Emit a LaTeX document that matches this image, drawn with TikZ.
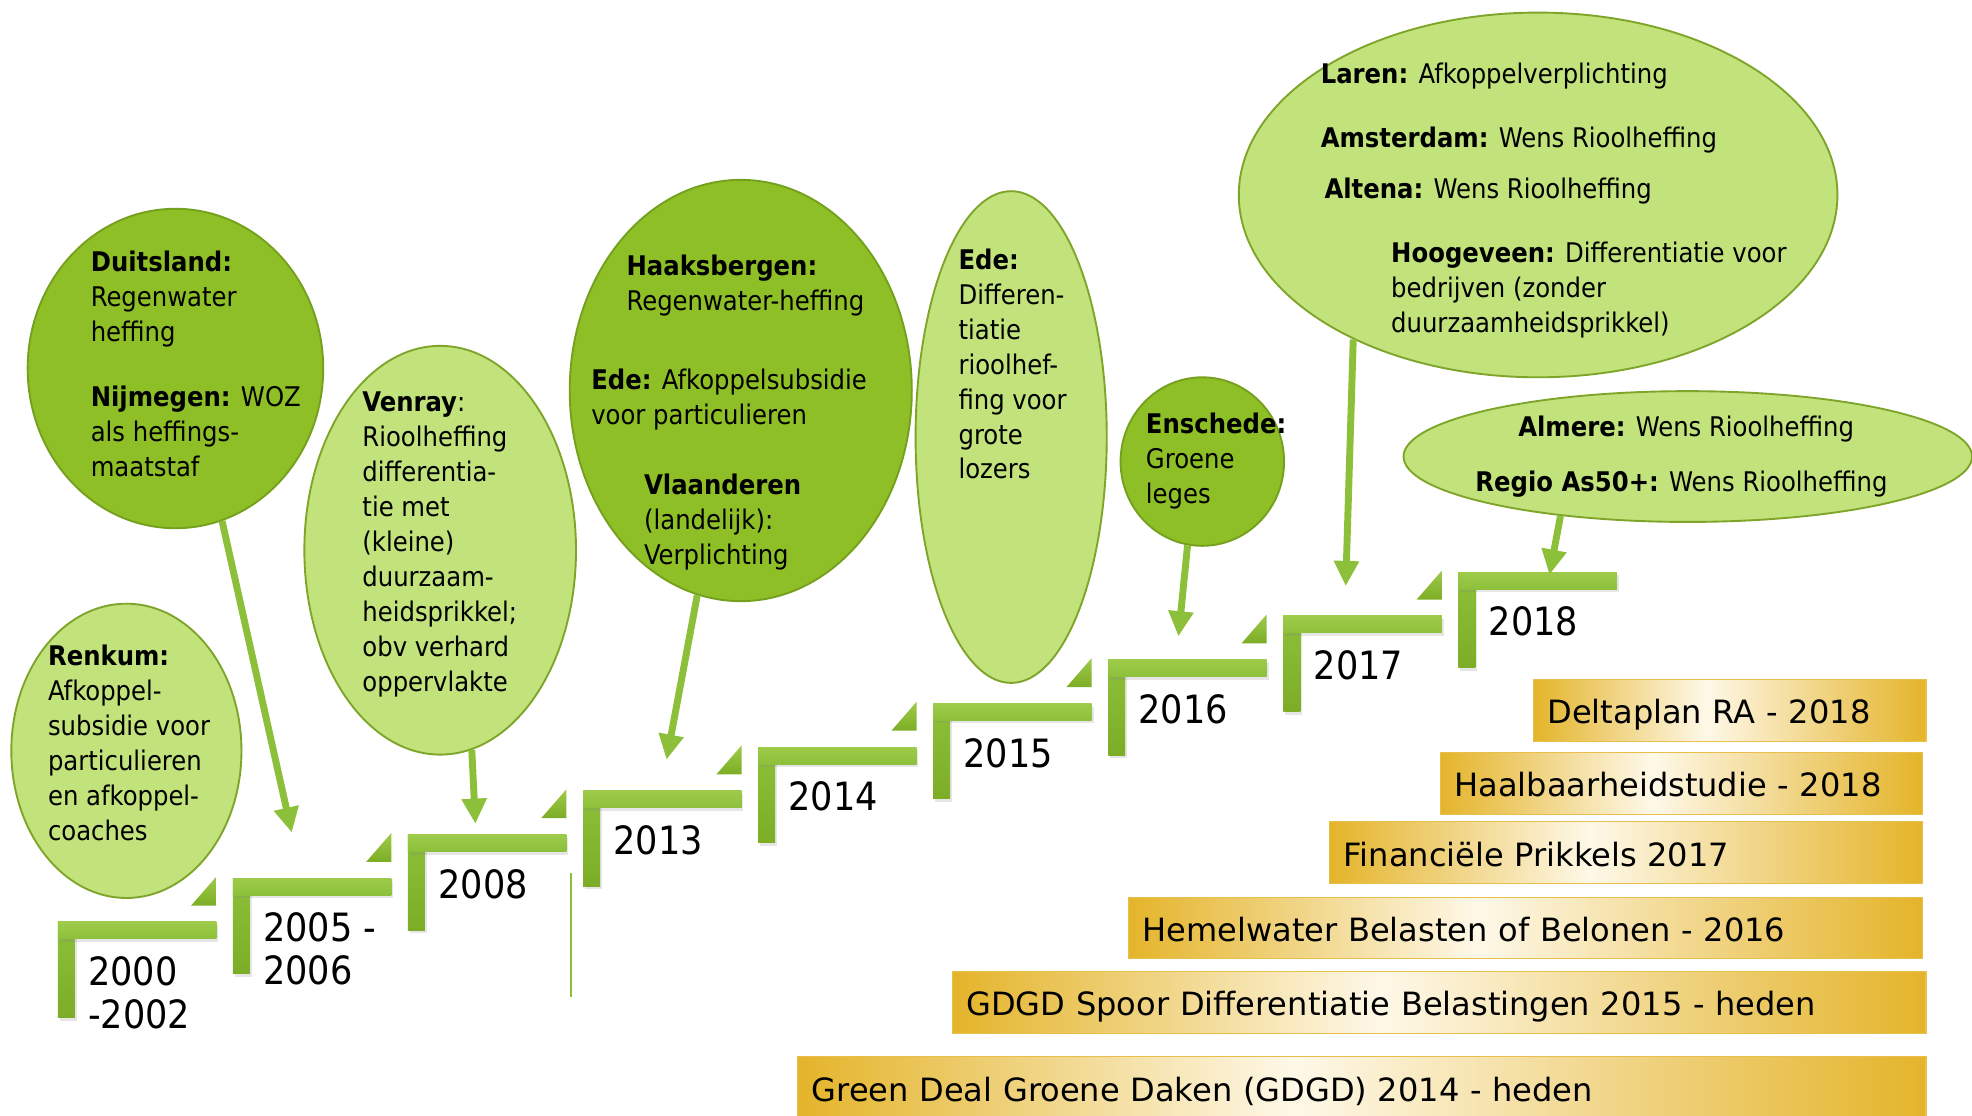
\documentclass[tikz,border=0pt]{standalone}
\usepackage{fontspec}
\setmainfont{DejaVu Sans Condensed}
\newfontfamily\boxfont{DejaVu Sans}
\usetikzlibrary{shapes.geometric,arrows.meta,shadows}

\definecolor{leafdark}{HTML}{8FBF26}
\definecolor{leafdarkedge}{HTML}{74A01E}
\definecolor{leaflight}{HTML}{C2E27B}
\definecolor{leaflightedge}{HTML}{7EA52A}
\definecolor{stepgreen}{HTML}{8DC03A}
\definecolor{steplight}{HTML}{9ECB4A}
\definecolor{stepdark}{HTML}{7DAD26}
\definecolor{gold}{HTML}{E4B42A}
\definecolor{cream}{HTML}{FEF8E8}

\pgfdeclarehorizontalshading{goldbar}{100bp}{color(0bp)=(gold); color(25bp)=(gold); color(47bp)=(cream); color(75bp)=(gold); color(100bp)=(gold)}

\tikzset{
  leaf/.style={ellipse, draw=leafdarkedge, fill=leafdark, line width=1.5pt, inner sep=0pt},
  pale leaf/.style={ellipse, draw=leaflightedge, fill=leaflight, line width=1.5pt, inner sep=0pt},
  leaftext/.style={anchor=north west, inner sep=0pt, align=left, font=\fontsize{21.5}{27.8}\selectfont},
  yearlabel/.style={anchor=north west, inner sep=0pt, align=left, font=\fontsize{31}{34}\selectfont},
  hbar/.style={top color=steplight, bottom color=stepgreen, drop shadow={opacity=.2, shadow xshift=1.5pt, shadow yshift=-2.5pt}},
  vbar/.style={top color=stepgreen, bottom color=stepdark, drop shadow={opacity=.2, shadow xshift=1.5pt, shadow yshift=-2.5pt}},
  riser/.style={top color=steplight, bottom color=stepdark},
  pointer/.style={draw=stepgreen, line width=5.5pt, -{Triangle[width=19pt,length=20pt]}},
  goldbox/.style={anchor=north west, shade, shading=goldbar, draw=gold!85!white, line width=0.8pt,
    inner xsep=11pt, inner ysep=0pt, minimum height=49pt, text height=21.5pt, text depth=0pt,
    align=left, font=\boxfont\fontsize{25.5}{30}\selectfont},
}

\begin{document}
\begin{tikzpicture}[x=1pt, y=-1pt]

  \useasboundingbox (0,0) rectangle (1568,887);

  % Staircase of years
  \foreach \yr [count=\i from 0] in {{2000\\-2002},{2005 -\\2006},2008,2013,2014,2015,2016,2017,2018}{
    \pgfmathsetmacro\stepx{46+139.2*\i}
    \pgfmathsetmacro\stepy{733-34.75*\i}
    \shade[vbar] (\stepx,\stepy) rectangle ++(13.5,76);
    \shade[hbar] (\stepx,\stepy) rectangle ++(126,13.5);
    \ifnum\i<8
      \shade[riser] (\stepx+126,\stepy-36) -- ++(0,23) -- ++(-20,0) -- cycle;
    \fi
    \node[yearlabel] (yr\i) at (\stepx+24,\stepy+27.4) {\yr};
  }
  \draw[stepgreen, line width=1.5pt] (454,694) -- (454,793);

  % Define nodes
  \node[pale leaf, minimum width=183pt, minimum height=234pt] (renkum) at (100.5,597) {};
  \node[leaf, minimum width=235pt, minimum height=254pt] (duits) at (139.5,293) {};
  \node[pale leaf, minimum width=216pt, minimum height=325pt] (venray) at (350,437.5) {};
  \node[leaf, minimum width=272pt, minimum height=335pt] (haaks) at (589,310.5) {};
  \node[pale leaf, minimum width=152pt, minimum height=391pt] (ede) at (804,347.5) {};
  \node[leaf, minimum width=130pt, minimum height=134pt] (ensch) at (956,367) {};
  \node[pale leaf, minimum width=476pt, minimum height=290pt] (laren) at (1223,155) {};
  \node[pale leaf, minimum width=452pt, minimum height=104pt] (almere) at (1342,363) {};

  \node[leaftext] (renkum-txt) at (38,512.5) {\textbf{Renkum:}\\Afkoppel-\\subsidie voor\\particulieren\\en afkoppel-\\coaches};
  \node[leaftext] (duits-txt) at (72,199.5) {\textbf{Duitsland:}\\Regenwater\\heffing\\[24pt]\textbf{Nijmegen:} WOZ\\als heffings-\\maatstaf};
  \node[leaftext] (venray-txt) at (288,311.5) {\textbf{Venray}:\\Rioolheffing\\differentia-\\tie met\\(kleine)\\duurzaam-\\heidsprikkel;\\obv verhard\\oppervlakte};
  \node[leaftext] (haaks-txt) at (498,202.5) {\textbf{Haaksbergen:}\\Regenwater-heffing};
  \node[leaftext] (edesub-txt) at (470,293.5) {\textbf{Ede:} Afkoppelsubsidie\\voor particulieren};
  \node[leaftext] (vlaan-txt) at (512,376.5) {\textbf{Vlaanderen}\\(landelijk):\\Verplichting};
  \node[leaftext] (ede-txt) at (762,197.5) {\textbf{Ede:}\\Differen-\\tiatie\\rioolhef-\\fing voor\\grote\\lozers};
  \node[leaftext] (ensch-txt) at (911,328.5) {\textbf{Enschede:}\\Groene\\leges};
  \node[leaftext] (laren-txt) at (1050,49.5) {\textbf{Laren:} Afkoppelverplichting};
  \node[leaftext] (adam-txt) at (1050,100.5) {\textbf{Amsterdam:} Wens Rioolheffing};
  \node[leaftext] (altena-txt) at (1053,141.5) {\textbf{Altena:} Wens Rioolheffing};
  \node[leaftext] (hoog-txt) at (1106,192.5) {\textbf{Hoogeveen:} Differentiatie voor\\bedrijven (zonder\\duurzaamheidsprikkel)};
  \node[leaftext] (almere-txt) at (1207,330.5) {\textbf{Almere:} Wens Rioolheffing};
  \node[leaftext] (as50-txt) at (1173,374.5) {\textbf{Regio As50+:} Wens Rioolheffing};

  % Programmes
  \node[goldbox, text width=290pt] (delta) at (1219,540) {Deltaplan RA - 2018};
  \node[goldbox, text width=361pt] (haalb) at (1145,598) {Haalbaarheidstudie - 2018};
  \node[goldbox, text width=449pt] (prikkels) at (1057,653) {Financiële Prikkels 2017};
  \node[goldbox, text width=609pt] (hemel) at (897,713) {Hemelwater Belasten of Belonen - 2016};
  \node[goldbox, text width=752pt] (spoor) at (757,772) {GDGD Spoor Differentiatie Belastingen 2015 - heden};
  \node[goldbox, text width=875pt] (gdgd) at (634,840) {Green Deal Groene Daken (GDGD) 2014 - heden};

  % Connect the nodes
  \coordinate (t05) at (232,662);
  \coordinate (t08) at (378,655);
  \coordinate (t13) at (530,604);
  \coordinate (t16) at (937,506);
  \coordinate (t17) at (1070,466);
  \coordinate (t18) at (1232,457);
  \draw[pointer] (duits.287) -- (t05);
  \draw[pointer] (venray.279) -- (t08);
  \draw[pointer] (haaks.258) -- (t13);
  \draw[pointer] (ensch.260) -- (t16);
  \draw[pointer] (laren.218) -- (t17);
  \draw[pointer] (almere.205) -- (t18);

\end{tikzpicture}
\end{document}
